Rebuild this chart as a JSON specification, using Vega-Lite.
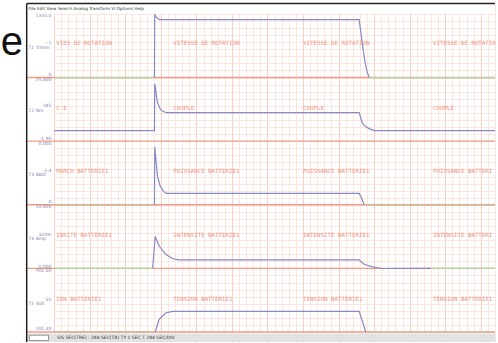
{
  "$schema": "https://vega.github.io/schema/vega-lite/v6.json",
  "width": 498,
  "height": 343,
  "autosize": {"type": "fit", "contains": "padding"},
  "padding": 0,
  "background": "white",
  "config": {
    "view": {"stroke": null},
    "axis": {"grid": true, "labels": false, "ticks": false, "domain": false, "gridWidth": 0.7, "gridColor": "#fadbd2"},
    "axisX": {"tickCount": 70, "gridColor": {"condition": {"test": "datum.value % 5 === 0", "value": "#f4bcae"}, "value": "#fadbd2"}},
    "axisY": {"tickCount": 48}
  },
  "datasets": {
    "tr": [
      {"seg": "c1z1", "kind": "zg", "t": 0, "v": 36}, {"seg": "c1z1", "kind": "zg", "t": 14.1, "v": 36},
      {"seg": "c1s", "kind": "sig", "t": 14.1, "v": 36}, {"seg": "c1s", "kind": "sig", "t": 14.14, "v": 44.86},
      {"seg": "c1s", "kind": "sig", "t": 14.5, "v": 44.4}, {"seg": "c1s", "kind": "sig", "t": 14.8, "v": 44.2},
      {"seg": "c1s", "kind": "sig", "t": 42.9, "v": 44.2}, {"seg": "c1s", "kind": "sig", "t": 43.18, "v": 42.04},
      {"seg": "c1s", "kind": "sig", "t": 43.46, "v": 39.92}, {"seg": "c1s", "kind": "sig", "t": 43.74, "v": 38.09},
      {"seg": "c1s", "kind": "sig", "t": 44.01, "v": 36.82}, {"seg": "c1s", "kind": "sig", "t": 44.29, "v": 36},
      {"seg": "c1z2", "kind": "zg", "t": 44.29, "v": 36}, {"seg": "c1z2", "kind": "zg", "t": 62, "v": 36},

      {"seg": "c2s", "kind": "sig", "t": 0, "v": 28.5}, {"seg": "c2s", "kind": "sig", "t": 14.1, "v": 28.5},
      {"seg": "c2s", "kind": "sig", "t": 14.14, "v": 35.1}, {"seg": "c2s", "kind": "sig", "t": 14.25, "v": 34.56},
      {"seg": "c2s", "kind": "sig", "t": 14.39, "v": 33.29}, {"seg": "c2s", "kind": "sig", "t": 14.53, "v": 32.45},
      {"seg": "c2s", "kind": "sig", "t": 14.95, "v": 31.46}, {"seg": "c2s", "kind": "sig", "t": 15.5, "v": 31.13},
      {"seg": "c2s", "kind": "sig", "t": 15.91, "v": 31.03}, {"seg": "c2s", "kind": "sig", "t": 42.9, "v": 31.03},
      {"seg": "c2s", "kind": "sig", "t": 43.32, "v": 29.62}, {"seg": "c2s", "kind": "sig", "t": 43.74, "v": 29.1},
      {"seg": "c2s", "kind": "sig", "t": 44.29, "v": 28.78}, {"seg": "c2s", "kind": "sig", "t": 44.98, "v": 28.5},
      {"seg": "c2s", "kind": "sig", "t": 62, "v": 28.5},

      {"seg": "c3z1", "kind": "zt", "t": 0, "v": 18}, {"seg": "c3z1", "kind": "zt", "t": 14.1, "v": 18},
      {"seg": "c3s", "kind": "sig", "t": 14.1, "v": 18}, {"seg": "c3s", "kind": "sig", "t": 14.14, "v": 26.2},
      {"seg": "c3s", "kind": "sig", "t": 14.53, "v": 22.05}, {"seg": "c3s", "kind": "sig", "t": 14.9, "v": 20.64},
      {"seg": "c3s", "kind": "sig", "t": 15.36, "v": 19.93}, {"seg": "c3s", "kind": "sig", "t": 15.77, "v": 19.61},
      {"seg": "c3s", "kind": "sig", "t": 42.9, "v": 19.61}, {"seg": "c3s", "kind": "sig", "t": 43.2, "v": 19.0},
      {"seg": "c3s", "kind": "sig", "t": 43.6, "v": 18},
      {"seg": "c3z2", "kind": "zt", "t": 43.6, "v": 18}, {"seg": "c3z2", "kind": "zt", "t": 62, "v": 18},

      {"seg": "c4z1", "kind": "zg", "t": 0, "v": 9}, {"seg": "c4z1", "kind": "zg", "t": 13.84, "v": 9},
      {"seg": "c4s", "kind": "sig", "t": 13.84, "v": 9}, {"seg": "c4s", "kind": "sig", "t": 14.21, "v": 13.5},
      {"seg": "c4s", "kind": "sig", "t": 14.77, "v": 12.17}, {"seg": "c4s", "kind": "sig", "t": 15.68, "v": 11.0},
      {"seg": "c4s", "kind": "sig", "t": 16.61, "v": 10.4}, {"seg": "c4s", "kind": "sig", "t": 17.53, "v": 10.2},
      {"seg": "c4s", "kind": "sig", "t": 42.9, "v": 10.2}, {"seg": "c4s", "kind": "sig", "t": 43.59, "v": 9.59},
      {"seg": "c4s", "kind": "sig", "t": 44.74, "v": 9.21}, {"seg": "c4s", "kind": "sig", "t": 46.08, "v": 8.99},
      {"seg": "c4s", "kind": "sig", "t": 53.0, "v": 9.0},
      {"seg": "c4z2", "kind": "zg", "t": 53.0, "v": 9}, {"seg": "c4z2", "kind": "zg", "t": 62, "v": 9},

      {"seg": "c5z1", "kind": "zt", "t": 0, "v": 0}, {"seg": "c5z1", "kind": "zt", "t": 14.21, "v": 0},
      {"seg": "c5s", "kind": "sig", "t": 14.21, "v": 0}, {"seg": "c5s", "kind": "sig", "t": 14.77, "v": 1.84},
      {"seg": "c5s", "kind": "sig", "t": 15.68, "v": 2.7}, {"seg": "c5s", "kind": "sig", "t": 16.61, "v": 2.92},
      {"seg": "c5s", "kind": "sig", "t": 42.9, "v": 2.92}, {"seg": "c5s", "kind": "sig", "t": 43.83, "v": 0},
      {"seg": "c5z2", "kind": "zt", "t": 43.83, "v": 0}, {"seg": "c5z2", "kind": "zt", "t": 62, "v": 0}
    ],
    "names": [
      {"label": "VIES DE ROTATION", "t": 0.28, "v": 40.9},
      {"label": "VITESSE DE ROTATION", "t": 16.74, "v": 40.9},
      {"label": "VITESSE DE ROTATION", "t": 35.01, "v": 40.9},
      {"label": "VITESSE DE ROTATIO", "t": 53.28, "v": 40.9},
      {"label": "C.E", "t": 0.28, "v": 31.74},
      {"label": "COUPLE", "t": 16.74, "v": 31.74},
      {"label": "COUPLE", "t": 35.01, "v": 31.74},
      {"label": "COUPLE", "t": 53.28, "v": 31.74},
      {"label": "MARCH BATTERIE1", "t": 0.28, "v": 22.71},
      {"label": "PUISSANCE BATTERIE1", "t": 16.74, "v": 22.71},
      {"label": "PUISSANCE BATTERIE1", "t": 35.01, "v": 22.71},
      {"label": "PUISSANCE BATTERI", "t": 53.28, "v": 22.71},
      {"label": "INSITE BATTERIE1", "t": 0.28, "v": 13.68},
      {"label": "INTENSITE BATTERIE1", "t": 16.74, "v": 13.68},
      {"label": "INTENSITE BATTERIE1", "t": 35.01, "v": 13.68},
      {"label": "INTENSITE BATTERI", "t": 53.28, "v": 13.68},
      {"label": "ION BATTERIE1", "t": 0.28, "v": 4.66},
      {"label": "TENSION BATTERIE1", "t": 16.74, "v": 4.66},
      {"label": "TENSION BATTERIE1", "t": 35.01, "v": 4.66},
      {"label": "TENSION BATTERIE1", "t": 53.28, "v": 4.66}
    ],
    "scalevals": [
      {"label": "1335.0", "v": 44.72}, {"label": "-.1", "v": 40.91}, {"label": "0", "v": 36.4},
      {"label": "25.000", "v": 35.69}, {"label": "185", "v": 32.02}, {"label": "-1.90", "v": 27.37},
      {"label": "0.000", "v": 26.66}, {"label": "-2.4", "v": 22.71}, {"label": "0", "v": 18.34},
      {"label": "10.000", "v": 17.63}, {"label": "320%", "v": 13.68}, {"label": "0.000", "v": 9.17},
      {"label": "YOL 00", "v": 8.6}, {"label": "55", "v": 4.51}, {"label": "101.30", "v": 0.43}
    ],
    "units": [
      {"label": "T1   Tr/min", "v": 40.2}, {"label": "T2   Nm", "v": 31.32},
      {"label": "T3   Watt", "v": 22.15}, {"label": "T4   Amp", "v": 13.12},
      {"label": "T5   Volt", "v": 3.95}
    ],
    "baselines": [{"v": 0}, {"v": 9}, {"v": 18}, {"v": 27}, {"v": 36}]
  },
  "layer": [
    {
      "data": {"values": [{"part": "leftmask"}]},
      "mark": {"type": "rect", "color": "white"},
      "encoding": {
        "x": {"datum": -6.92, "type": "quantitative", "scale": {"domain": [-6.92, 62], "nice": false, "zero": false}, "axis": {"title": null}},
        "x2": {"datum": -0.05},
        "y": {"datum": -1.41, "type": "quantitative", "scale": {"domain": [-1.41, 46.97], "nice": false, "zero": false}, "axis": {"title": null}},
        "y2": {"datum": 46.97}
      }
    },
    {
      "data": {"values": [{"part": "topmask"}]},
      "mark": {"type": "rect", "color": "white"},
      "encoding": {
        "x": {"datum": -6.92, "type": "quantitative", "scale": {"domain": [-6.92, 62], "nice": false, "zero": false}, "axis": {"title": null}},
        "x2": {"datum": 62},
        "y": {"datum": 45.03, "type": "quantitative", "scale": {"domain": [-1.41, 46.97], "nice": false, "zero": false}, "axis": {"title": null}},
        "y2": {"datum": 46.97}
      }
    },
    {
      "data": {"values": [{"part": "bottommask"}]},
      "mark": {"type": "rect", "color": "white"},
      "encoding": {
        "x": {"datum": -6.92, "type": "quantitative", "scale": {"domain": [-6.92, 62], "nice": false, "zero": false}, "axis": {"title": null}},
        "x2": {"datum": 62},
        "y": {"datum": -1.41, "type": "quantitative", "scale": {"domain": [-1.41, 46.97], "nice": false, "zero": false}, "axis": {"title": null}},
        "y2": {"datum": -0.03}
      }
    },
    {
      "data": {"name": "baselines"},
      "mark": {"type": "rule", "color": "#f29a87", "strokeWidth": 1.4},
      "encoding": {
        "x": {"datum": -3.87, "type": "quantitative", "scale": {"domain": [-6.92, 62], "nice": false, "zero": false}, "axis": {"title": null}},
        "x2": {"datum": 62},
        "y": {"field": "v", "type": "quantitative", "scale": {"domain": [-1.41, 46.97], "nice": false, "zero": false}, "axis": {"title": null}}
      }
    },
    {
      "data": {"name": "tr"},
      "mark": {"type": "line", "strokeWidth": 1.2, "interpolate": "linear"},
      "encoding": {
        "x": {"field": "t", "type": "quantitative", "scale": {"domain": [-6.92, 62], "nice": false, "zero": false}, "axis": {"title": null}},
        "y": {"field": "v", "type": "quantitative", "scale": {"domain": [-1.41, 46.97], "nice": false, "zero": false}, "axis": {"title": null}},
        "detail": {"field": "seg"},
        "color": {"field": "kind", "type": "nominal", "legend": null,
          "scale": {"domain": ["sig", "zg", "zt"], "range": ["#8888c4", "#acd8a0", "#cdb993"]}}
      }
    },
    {
      "data": {"name": "names"},
      "mark": {"type": "text", "align": "left", "baseline": "middle", "font": "DejaVu Sans Mono", "fontSize": 5.8, "color": "#ee9380"},
      "encoding": {
        "x": {"field": "t", "type": "quantitative", "scale": {"domain": [-6.92, 62], "nice": false, "zero": false}, "axis": {"title": null}},
        "y": {"field": "v", "type": "quantitative", "scale": {"domain": [-1.41, 46.97], "nice": false, "zero": false}, "axis": {"title": null}},
        "text": {"field": "label"}
      }
    },
    {
      "data": {"name": "scalevals"},
      "mark": {"type": "text", "align": "right", "baseline": "middle", "font": "DejaVu Sans", "fontSize": 4.5, "color": "#8080ad"},
      "encoding": {
        "x": {"datum": -0.4, "type": "quantitative", "scale": {"domain": [-6.92, 62], "nice": false, "zero": false}, "axis": {"title": null}},
        "y": {"field": "v", "type": "quantitative", "scale": {"domain": [-1.41, 46.97], "nice": false, "zero": false}, "axis": {"title": null}},
        "text": {"field": "label"}
      }
    },
    {
      "data": {"name": "units"},
      "mark": {"type": "text", "align": "left", "baseline": "middle", "font": "DejaVu Sans", "fontSize": 4.5, "color": "#8080ad"},
      "encoding": {
        "x": {"datum": -3.6, "type": "quantitative", "scale": {"domain": [-6.92, 62], "nice": false, "zero": false}, "axis": {"title": null}},
        "y": {"field": "v", "type": "quantitative", "scale": {"domain": [-1.41, 46.97], "nice": false, "zero": false}, "axis": {"title": null}},
        "text": {"field": "label"}
      }
    },
    {
      "data": {"values": [{"label": "File   Edit   View   Search   Analog   Transform   VI   Options   Help"}]},
      "mark": {"type": "text", "align": "left", "baseline": "middle", "font": "DejaVu Sans", "fontSize": 4.2, "color": "#333333"},
      "encoding": {
        "x": {"datum": -3.6, "type": "quantitative", "scale": {"domain": [-6.92, 62], "nice": false, "zero": false}, "axis": {"title": null}},
        "y": {"datum": 45.71, "type": "quantitative", "scale": {"domain": [-1.41, 46.97], "nice": false, "zero": false}, "axis": {"title": null}},
        "text": {"field": "label"}
      }
    },
    {
      "data": {"values": [{"part": "statusbar"}]},
      "mark": {"type": "rect", "color": "#e2e2e2"},
      "encoding": {
        "x": {"datum": -3.87, "type": "quantitative", "scale": {"domain": [-6.92, 62], "nice": false, "zero": false}, "axis": {"title": null}},
        "x2": {"datum": 62},
        "y": {"datum": -0.22, "type": "quantitative", "scale": {"domain": [-1.41, 46.97], "nice": false, "zero": false}, "axis": {"title": null}},
        "y2": {"datum": -1.41}
      }
    },
    {
      "data": {"values": [{"part": "box"}]},
      "mark": {"type": "rect", "color": "white", "stroke": "#555555", "strokeWidth": 0.6},
      "encoding": {
        "x": {"datum": -3.5, "type": "quantitative", "scale": {"domain": [-6.92, 62], "nice": false, "zero": false}, "axis": {"title": null}},
        "x2": {"datum": -0.8},
        "y": {"datum": -0.45, "type": "quantitative", "scale": {"domain": [-1.41, 46.97], "nice": false, "zero": false}, "axis": {"title": null}},
        "y2": {"datum": -1.2}
      }
    },
    {
      "data": {"values": [{"label": "SIS SEC(TRE)  :   284 SEC(TR)    TY 1 SEC T    284 SEC/DIV"}]},
      "mark": {"type": "text", "align": "left", "baseline": "middle", "font": "DejaVu Sans", "fontSize": 4.5, "color": "#333333"},
      "encoding": {
        "x": {"datum": 0.4, "type": "quantitative", "scale": {"domain": [-6.92, 62], "nice": false, "zero": false}, "axis": {"title": null}},
        "y": {"datum": -0.85, "type": "quantitative", "scale": {"domain": [-1.41, 46.97], "nice": false, "zero": false}, "axis": {"title": null}},
        "text": {"field": "label"}
      }
    },
    {
      "data": {"values": [{"edge": "top"}]},
      "mark": {"type": "rule", "color": "#222222", "strokeWidth": 1.5},
      "encoding": {
        "x": {"datum": -3.87, "type": "quantitative", "scale": {"domain": [-6.92, 62], "nice": false, "zero": false}, "axis": {"title": null}},
        "x2": {"datum": 62},
        "y": {"datum": 46.48, "type": "quantitative", "scale": {"domain": [-1.41, 46.97], "nice": false, "zero": false}, "axis": {"title": null}}
      }
    },
    {
      "data": {"values": [{"edge": "left"}]},
      "mark": {"type": "rule", "color": "#222222", "strokeWidth": 1.5},
      "encoding": {
        "x": {"datum": -3.87, "type": "quantitative", "scale": {"domain": [-6.92, 62], "nice": false, "zero": false}, "axis": {"title": null}},
        "y": {"datum": 46.48, "type": "quantitative", "scale": {"domain": [-1.41, 46.97], "nice": false, "zero": false}, "axis": {"title": null}},
        "y2": {"datum": -1.41}
      }
    },
    {
      "data": {"values": [{"label": "e"}]},
      "mark": {"type": "text", "align": "center", "baseline": "alphabetic", "font": "Liberation Sans", "fontSize": 40, "color": "#111111"},
      "encoding": {
        "x": {"datum": -5.95, "type": "quantitative", "scale": {"domain": [-6.92, 62], "nice": false, "zero": false}, "axis": {"title": null}},
        "y": {"datum": 39.2, "type": "quantitative", "scale": {"domain": [-1.41, 46.97], "nice": false, "zero": false}, "axis": {"title": null}},
        "text": {"field": "label"}
      }
    }
  ]
}
